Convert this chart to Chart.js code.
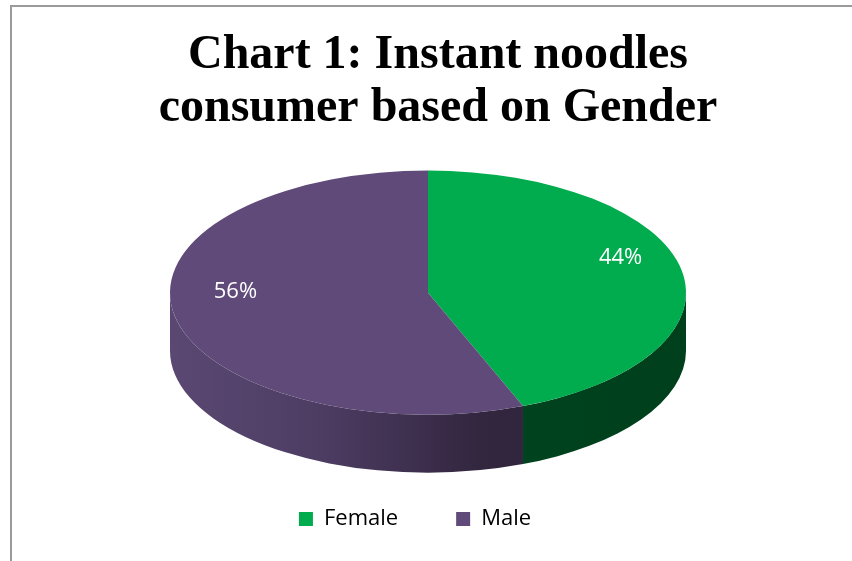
<!DOCTYPE html>
<html>
<head>
<meta charset="utf-8">
<script src="https://cdn.jsdelivr.net/npm/chart.js@4.4.1/dist/chart.umd.min.js"></script>
<style>
    html, body { margin: 0; padding: 0; background: #fff; }
    #wrap { position: relative; width: 852px; height: 561px; overflow: hidden; }
    #frame {
        position: absolute; left: 10px; top: 5px; width: 900px; height: 600px;
        border-left: 2px solid #9a9a9a; border-top: 2px solid #9a9a9a;
        pointer-events: none;
    }
</style>
</head>
<body>
<div id="wrap">
    <canvas id="pieChart" width="852" height="561"></canvas>
    <div id="frame"></div>
</div>
<script>
// chart data
const titleLines = ['Chart 1: Instant noodles', 'consumer based on Gender'];
const genders = ['Female', 'Male'];
const shares = [44, 56];
const sliceColors = ['#00ac4e', '#5f4a79'];

/**
 * Fake 3D pie: squashes the library's arcs into an ellipse and
 * paints the visible rim (side wall) underneath them.
 */
const pie3d = {
    id: 'pie3d',

    // nudge title / legend boxes the way the original sits
    afterLayout(chart, args, opts) {
        if (chart.titleBlock) {
            chart.titleBlock.left += opts.titleShift;
            chart.titleBlock.right += opts.titleShift;
        }
        if (chart.legend) {
            chart.legend.left += opts.legendShift;
            chart.legend.right += opts.legendShift;
        }
    },

    geometry(chart, opts) {
        const area = chart.chartArea;
        const rx = opts.radiusX;
        const ry = rx * opts.tilt;
        return {
            cx: (area.left + area.right) / 2 + opts.pieShift,
            cy: area.top + ry,
            rx: rx,
            ry: ry,
            depth: opts.depth
        };
    },

    beforeDatasetsDraw(chart, args, opts) {
        const ctx = chart.ctx;
        const meta = chart.getDatasetMeta(0);
        const g = this.geometry(chart, opts);

        // side walls, only the front half (canvas angles 0..PI) shows
        meta.data.forEach((arc, i) => {
            const a1 = Math.max(arc.startAngle, 0);
            const a2 = Math.min(arc.endAngle, Math.PI);
            if (a2 <= a1) return;

            const grad = ctx.createLinearGradient(g.cx - g.rx, 0, g.cx + g.rx, 0);
            opts.sideStops[i].forEach(s => grad.addColorStop(s[0], s[1]));

            ctx.save();
            ctx.beginPath();
            ctx.ellipse(g.cx, g.cy, g.rx, g.ry, 0, a1, a2, false);
            ctx.lineTo(g.cx + g.rx * Math.cos(a2), g.cy + g.depth + g.ry * Math.sin(a2));
            ctx.ellipse(g.cx, g.cy + g.depth, g.rx, g.ry, 0, a2, a1, true);
            ctx.closePath();
            ctx.fillStyle = grad;
            ctx.fill();
            ctx.restore();
        });

        // squash the top face
        const first = meta.data[0];
        const R = first.outerRadius;
        ctx.save();
        ctx.translate(g.cx, g.cy);
        ctx.scale(g.rx / R, g.ry / R);
        ctx.translate(-first.x, -first.y);
    },

    afterDatasetsDraw(chart, args, opts) {
        const ctx = chart.ctx;
        ctx.restore();

        const meta = chart.getDatasetMeta(0);
        const values = chart.data.datasets[0].data;
        const total = values.reduce((a, b) => a + b, 0);
        const g = this.geometry(chart, opts);

        ctx.save();
        ctx.fillStyle = '#ffffff';
        ctx.font = opts.labelFont;
        ctx.textAlign = 'center';
        ctx.textBaseline = 'middle';
        meta.data.forEach((arc, i) => {
            const mid = (arc.startAngle + arc.endAngle) / 2;
            const x = g.cx + g.rx * opts.labelRadius * Math.cos(mid);
            const y = g.cy + g.ry * opts.labelRadius * Math.sin(mid) + opts.labelShift;
            ctx.fillText(Math.round(values[i] / total * 100) + '%', x, y);
        });
        ctx.restore();
    }
};

document.addEventListener('DOMContentLoaded', () => {
    const ctx = document.getElementById('pieChart').getContext('2d');

    new Chart(ctx, {
        type: 'pie',
        data: {
            labels: genders,
            datasets: [{
                data: shares,
                backgroundColor: sliceColors,
                borderWidth: 0,
                clip: false
            }]
        },
        options: {
            responsive: false,
            animation: false,
            events: [],
            layout: { padding: { bottom: 21 } },
            plugins: {
                title: {
                    display: true,
                    text: titleLines,
                    color: '#000',
                    font: { family: '"Liberation Serif", "Times New Roman", serif', size: 48, weight: 'bold', lineHeight: 1.1 },
                    padding: { top: 29, bottom: 36 }
                },
                legend: {
                    position: 'bottom',
                    labels: {
                        color: '#000',
                        boxWidth: 14,
                        boxHeight: 14,
                        padding: 58,
                        font: { family: '"Open Sans", sans-serif', size: 22 }
                    }
                },
                tooltip: { enabled: false },
                pie3d: {
                    radiusX: 258,
                    tilt: 0.473,
                    depth: 58,
                    pieShift: 2,
                    titleShift: 12,
                    legendShift: -11,
                    labelRadius: 0.76,
                    labelShift: -18,
                    labelFont: '22px "Open Sans", sans-serif',
                    sideStops: [
                        [[0, '#014b23'], [1, '#003f1c']],
                        [[0, '#5a4872'], [0.3, '#4c3c62'], [0.6, '#33263f'], [1, '#2b1e38']]
                    ]
                }
            }
        },
        plugins: [pie3d]
    });
});
</script>
</body>
</html>
